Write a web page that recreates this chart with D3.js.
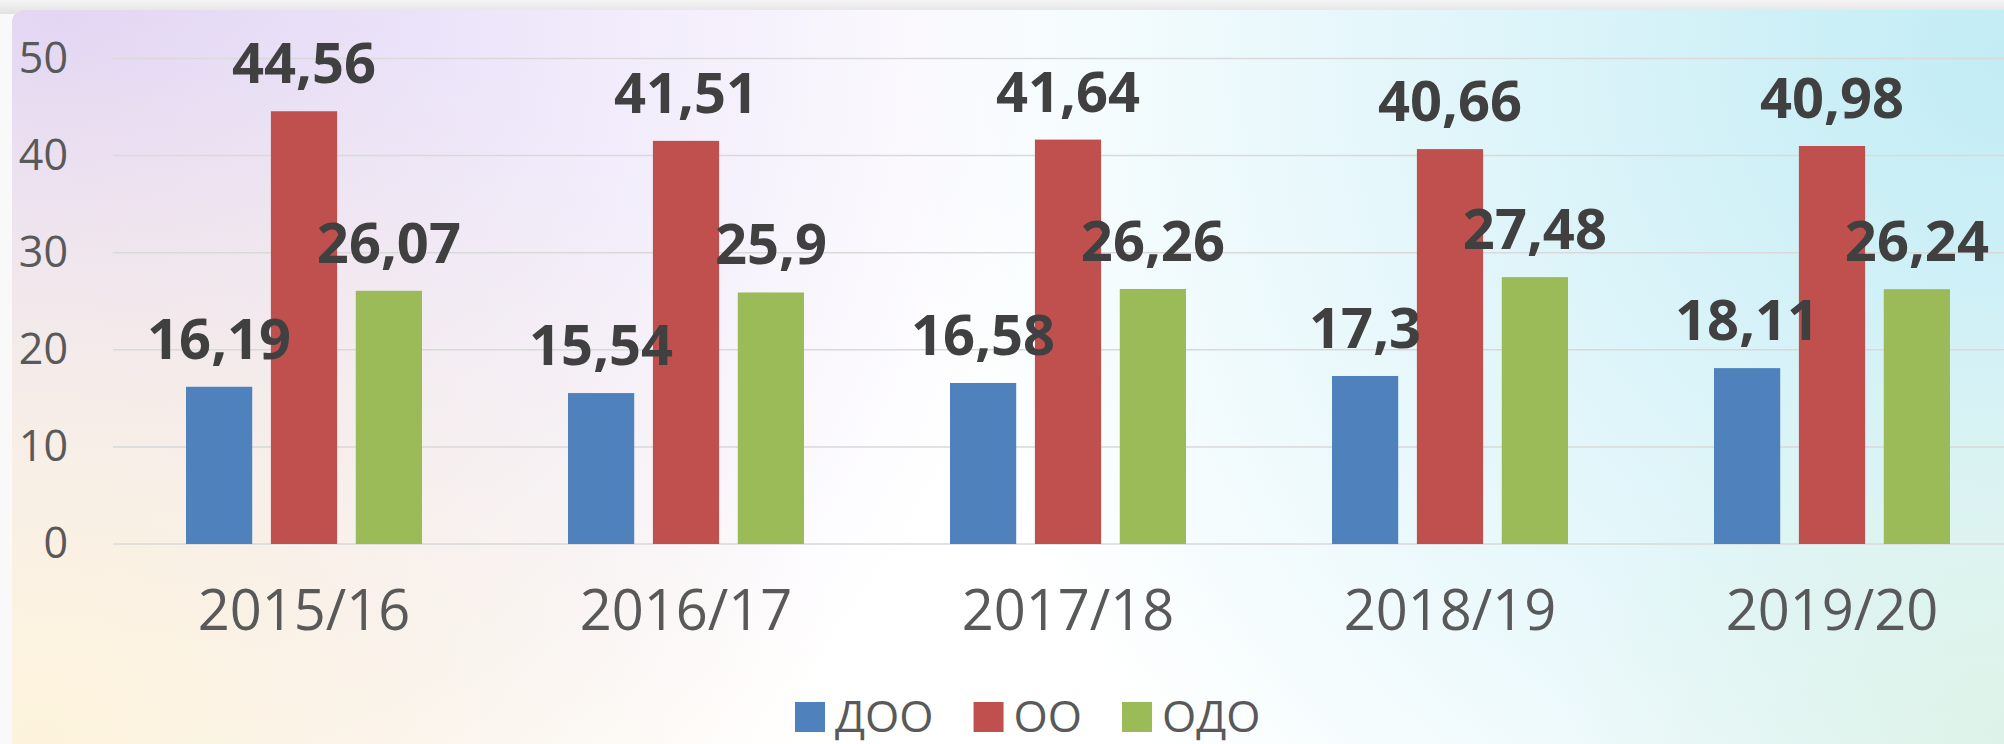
<!DOCTYPE html>
<html>
<head>
<meta charset="utf-8">
<script src="https://cdn.jsdelivr.net/npm/d3@7"></script>
<style>
  body { margin: 0; background: #f2f2f2; }
  svg { display: block; }
  text { font-family: "Open Sans", sans-serif; }
</style>
</head>
<body>
<svg id="chart" width="2004" height="744"></svg>
<script>
const years = ["2015/16", "2016/17", "2017/18", "2018/19", "2019/20"];
const seriesNames = ["ДОО", "ОО", "ОДО"];
const dooValues = [16.19, 15.54, 16.58, 17.3, 18.11];
const ooValues = [44.56, 41.51, 41.64, 40.66, 40.98];
const odoValues = [26.07, 25.9, 26.26, 27.48, 26.24];
const yTicks = [0, 10, 20, 30, 40, 50];
const colors = ["#4f81bd", "#c0504d", "#9bbb59"];

const seriesValues = [dooValues, ooValues, odoValues];
const data = years.map((year, i) => ({
    year,
    values: seriesNames.map((name, j) => ({ name, value: seriesValues[j][i] }))
}));

const svg = d3.select("#chart");
const width = 2004, height = 744;

// background gradients
const defs = svg.append("defs");
const radial = (id, cx, cy, r, color, op) => {
    const g = defs.append("radialGradient")
        .attr("id", id)
        .attr("gradientUnits", "userSpaceOnUse")
        .attr("cx", cx).attr("cy", cy).attr("r", r);
    g.append("stop").attr("offset", 0).attr("stop-color", color).attr("stop-opacity", op);
    g.append("stop").attr("offset", 1).attr("stop-color", color).attr("stop-opacity", 0);
};
radial("bgViolet", 60, 20, 1000, "#e0d3f6", 1);
radial("bgCyan", 2004, 60, 1100, "#c2ecf5", 1);
radial("bgCream", 40, 744, 800, "#fdf3dc", 1);
radial("bgMint", 2004, 744, 450, "#dcf2e6", 0.9);

const topStrip = defs.append("linearGradient").attr("id", "topStrip")
    .attr("x1", 0).attr("y1", 0).attr("x2", 0).attr("y2", 1);
topStrip.append("stop").attr("offset", 0).attr("stop-color", "#f4f4f4");
topStrip.append("stop").attr("offset", 1).attr("stop-color", "#e2e2e2");

svg.append("rect").attr("width", width).attr("height", height).attr("fill", "#f9f9f9");
svg.append("rect").attr("width", width).attr("height", 14).attr("fill", "url(#topStrip)");

const bg = svg.append("g");
bg.append("rect").attr("x", 12).attr("y", 10).attr("width", width).attr("height", height)
    .attr("rx", 12).attr("fill", "#ffffff");
["bgViolet", "bgCyan", "bgCream", "bgMint"].forEach(id => {
    bg.append("rect").attr("x", 12).attr("y", 10).attr("width", width).attr("height", height)
        .attr("rx", 12).attr("fill", `url(#${id})`);
});

// scales
const xScale = d3.scaleBand()
    .domain(years)
    .range([113, 2023])
    .padding(0);

const groupWidth = 236;
const xSub = d3.scaleBand()
    .domain(seriesNames)
    .range([0, groupWidth])
    .paddingInner(0.22)
    .paddingOuter(0);

const yScale = d3.scaleLinear()
    .domain([0, 50])
    .range([544, 58.4]);

// grid lines
svg.append("g")
    .selectAll("line")
    .data(yTicks)
    .join("line")
    .attr("x1", 113)
    .attr("x2", width)
    .attr("y1", d => yScale(d))
    .attr("y2", d => yScale(d))
    .attr("stroke", "#d9d9d9")
    .attr("stroke-width", 1.5);

// y axis labels
const yAxis = svg.append("g")
    .attr("transform", "translate(68,0)")
    .call(d3.axisLeft(yScale).tickValues(yTicks).tickSize(0).tickPadding(0));
yAxis.select(".domain").remove();
yAxis.selectAll("text")
    .attr("font-family", "Open Sans, sans-serif")
    .attr("font-size", 43)
    .attr("fill", "#595959");

// x axis labels
const xAxis = svg.append("g")
    .attr("transform", "translate(0,590)")
    .call(d3.axisBottom(xScale).tickSize(0).tickPadding(0));
xAxis.select(".domain").remove();
xAxis.selectAll("text")
    .attr("font-family", "Open Sans, sans-serif")
    .attr("font-size", 56)
    .attr("fill", "#595959");

// bars
const groups = svg.append("g")
    .selectAll("g")
    .data(data)
    .join("g")
    .attr("transform", d => `translate(${xScale(d.year) + (xScale.bandwidth() - groupWidth) / 2},0)`);

groups.selectAll("rect")
    .data(d => d.values)
    .join("rect")
    .attr("x", d => xSub(d.name))
    .attr("y", d => yScale(d.value))
    .attr("width", xSub.bandwidth())
    .attr("height", d => yScale(0) - yScale(d.value))
    .attr("fill", (d, i) => colors[i]);

groups.selectAll("text")
    .data(d => d.values)
    .join("text")
    .attr("x", d => xSub(d.name) + xSub.bandwidth() / 2)
    .attr("y", d => yScale(d.value) - 28)
    .attr("text-anchor", "middle")
    .attr("font-size", 56)
    .attr("font-weight", 700)
    .attr("fill", "#404040")
    .text(d => String(d.value).replace(".", ","));

// legend
const legend = svg.append("g");
let lx = 795;
seriesNames.forEach((name, i) => {
    legend.append("rect")
        .attr("x", lx)
        .attr("y", 702)
        .attr("width", 30)
        .attr("height", 30)
        .attr("fill", colors[i]);
    const t = legend.append("text")
        .attr("x", lx + 40)
        .attr("y", 732)
        .attr("font-size", 44)
        .attr("fill", "#595959")
        .text(name);
    lx += 40 + t.node().getComputedTextLength() + 40;
});
</script>
</body>
</html>
